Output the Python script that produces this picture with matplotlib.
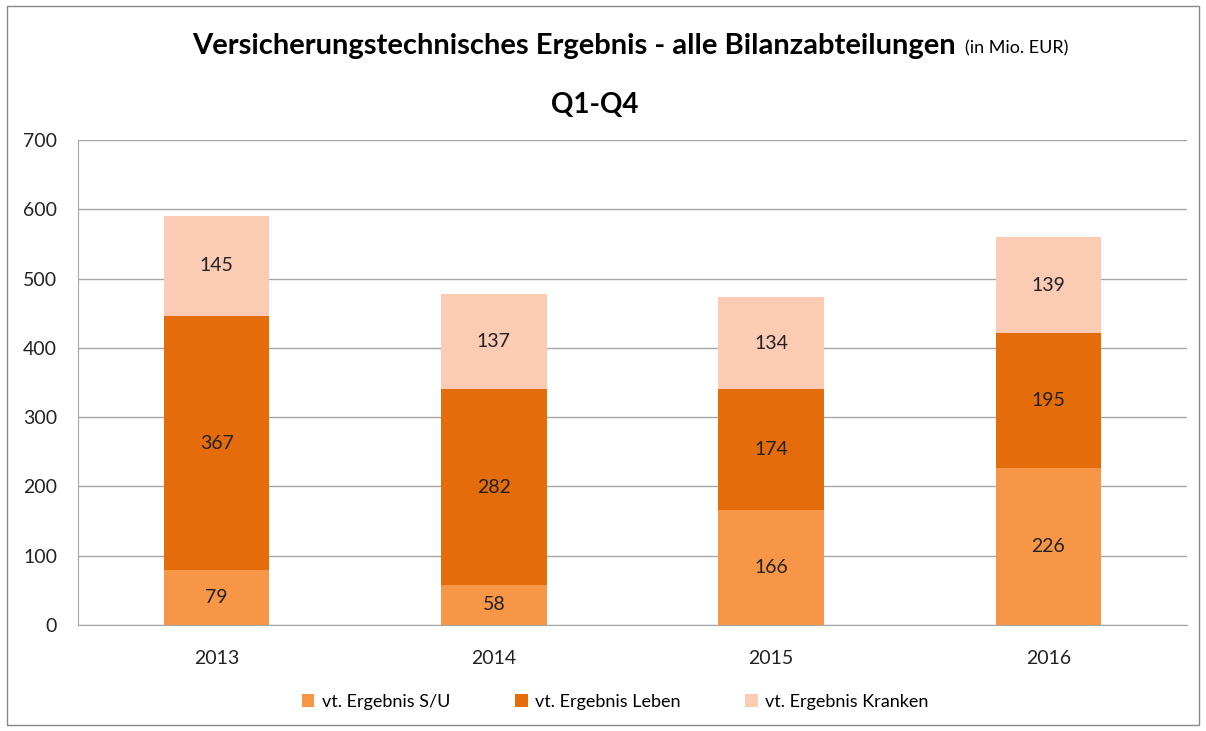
import matplotlib.pyplot as plt
import numpy as np
from matplotlib.patches import Rectangle

plt.rcParams['font.family'] = ['Lato', 'DejaVu Sans']

years = ['2013', '2014', '2015', '2016']
su = [79, 58, 166, 226]
leben = [367, 282, 174, 195]
kranken = [145, 137, 134, 139]

labels = ['vt. Ergebnis S/U', 'vt. Ergebnis Leben', 'vt. Ergebnis Kranken']
colors = ['#F79646', '#E46C0A', '#FBCBB4']

fig = plt.figure(figsize=(12.06, 7.31), dpi=100)
ax = fig.add_axes([0.0647, 0.145, 0.9195, 0.6635])

x = np.arange(len(years))
bottom = np.zeros(len(years))
for vals, lab, col in zip([su, leben, kranken], labels, colors):
    vals = np.array(vals)
    ax.bar(x, vals, 0.38, bottom=bottom, color=col, label=lab, zorder=2)
    for xi, b, v in zip(x, bottom, vals):
        ax.text(xi, b + v / 2, str(v), ha='center', va='center', fontsize=14, color='#222222', zorder=3)
    bottom += vals

ax.set_xlim(-0.5, 3.5)
ax.set_ylim(0, 700)
ax.set_yticks(range(0, 701, 100))
ax.set_xticks(x)
ax.set_xticklabels(years)
ax.yaxis.grid(True, color='#A6A6A6', linewidth=1, zorder=0)
ax.tick_params(axis='both', length=0, labelsize=14, colors='#222222')
ax.tick_params(axis='x', pad=18)
ax.tick_params(axis='y', pad=15)
for s in ['top', 'right']:
    ax.spines[s].set_visible(False)
for s in ['left', 'bottom']:
    ax.spines[s].set_color('#A6A6A6')

fig.text(0.476, 0.937, 'Versicherungstechnisches Ergebnis - alle Bilanzabteilungen', ha='center', va='center',
         fontsize=21, fontweight='bold')
fig.text(0.800, 0.934, '(in Mio. EUR)', ha='left', va='center', fontsize=13)
fig.text(0.493, 0.857, 'Q1-Q4', ha='center', va='center', fontsize=20, fontweight='bold')

fig.legend(loc='center', bbox_to_anchor=(0.51, 0.040), ncol=3, frameon=False, fontsize=13,
           handlelength=0.7, handleheight=0.7, handletextpad=0.4, columnspacing=3.6)

fig.patches.append(Rectangle((0.006, 0.008), 0.988, 0.984, transform=fig.transFigure,
                             fill=False, edgecolor='#888888', linewidth=1))

fig.savefig('out.png', dpi=100)
